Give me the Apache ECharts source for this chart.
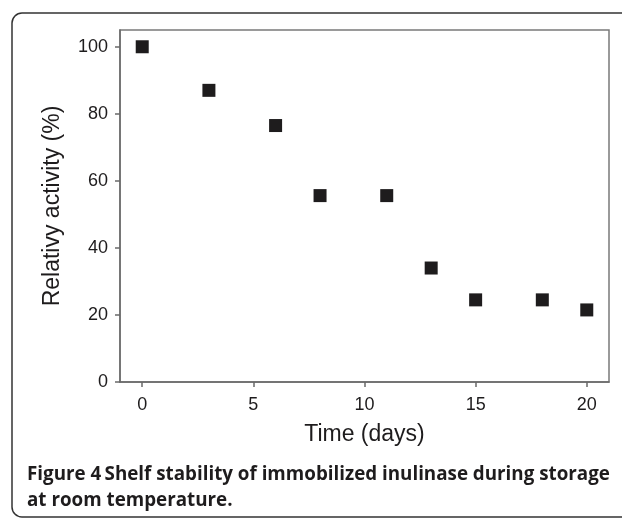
<!DOCTYPE html>
<html>
<head>
<meta charset="utf-8">
<script src="https://cdn.jsdelivr.net/npm/echarts@6/dist/echarts.min.js"></script>
<style>
  html, body { margin: 0; padding: 0; background: #fff; }
  #chart { width: 622px; height: 519px; }
</style>
</head>
<body>
<div id="chart"></div>
<script>
// storage time (days) and residual activity (%)
var days = [0, 3, 6, 8, 11, 13, 15, 18, 20];
var activity = [100, 87, 76.5, 55.6, 55.6, 34, 24.5, 24.5, 21.5];
var xTicks = [0, 5, 10, 15, 20];
var yTicks = [0, 20, 40, 60, 80, 100];

var points = days.map(function (d, i) { return [d, activity[i]]; });

var myChart = echarts.init(document.getElementById('chart'));

var option = {
  animation: false,
  textStyle: { fontFamily: 'Liberation Sans, Arial, sans-serif' },
  grid: {
    left: 120, top: 30, right: 13, bottom: 137,
    show: true,
    borderColor: '#7a7a7a',
    borderWidth: 1.5
  },
  xAxis: {
    type: 'value',
    min: -1, max: 21,
    name: 'Time (days)',
    nameLocation: 'middle',
    nameGap: 41,
    nameTextStyle: { fontSize: 23, color: '#1e1c1d' },
    axisLine: { onZero: false, lineStyle: { color: '#6a6a6a', width: 1.5 } },
    axisTick: { show: true, length: 5, customValues: xTicks, lineStyle: { color: '#6a6a6a', width: 1.5 } },
    axisLabel: { customValues: xTicks, fontSize: 18, color: '#1e1c1d', margin: 14 },
    splitLine: { show: false }
  },
  yAxis: {
    type: 'value',
    min: 0, max: 105,
    name: 'Relativy activity (%)',
    nameLocation: 'middle',
    nameGap: 56,
    nameTextStyle: { fontSize: 23, color: '#1e1c1d' },
    axisLine: { show: true, onZero: false, lineStyle: { color: '#6a6a6a', width: 1.5 } },
    axisTick: { show: true, length: 5, customValues: yTicks, lineStyle: { color: '#6a6a6a', width: 1.5 } },
    axisLabel: { customValues: yTicks, fontSize: 18, color: '#1e1c1d', margin: 12 },
    splitLine: { show: false }
  },
  series: [{
    type: 'scatter',
    data: points,
    symbol: 'rect',
    symbolSize: 13,
    itemStyle: { color: '#1e1c1d', opacity: 1 }
  }],
  graphic: [
    {
      type: 'rect',
      shape: { x: 12, y: 13, width: 640, height: 504, r: 10 },
      style: { fill: 'none', stroke: '#333', lineWidth: 1.5 },
      silent: true
    },
    {
      type: 'text',
      left: 27, top: 465,
      style: {
        text: '{b|Figure 4} {s|Shelf stability of immobilized inulinase during storage}\n{s|at room temperature.}',
        rich: {
          b: { fontFamily: 'Open Sans', fontWeight: 'bold', fontSize: 18.8, fill: '#1e1c1d', lineHeight: 26 },
          s: { fontFamily: 'Open Sans', fontWeight: 'bold', fontSize: 18.8, fill: '#1e1c1d', lineHeight: 26 }
        }
      }
    }
  ]
};

myChart.setOption(option);
</script>
</body>
</html>
